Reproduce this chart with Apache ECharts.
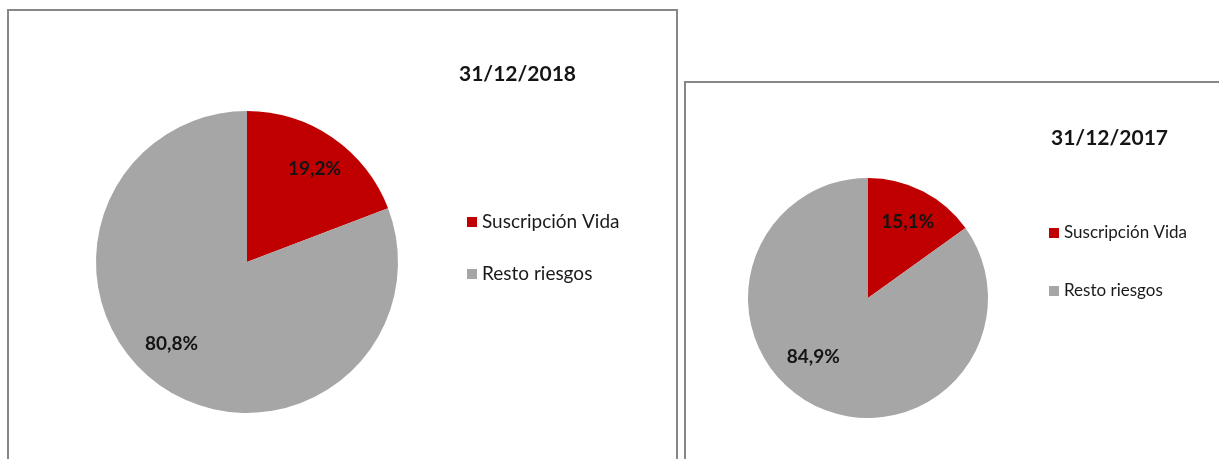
<!DOCTYPE html>
<html>
<head>
<meta charset="utf-8">
<script src="https://cdn.jsdelivr.net/npm/echarts@6/dist/echarts.min.js"></script>
<style>
  html, body { margin: 0; padding: 0; background: #fff; }
  #chart { width: 1219px; height: 459px; }
</style>
</head>
<body>
<div id="chart"></div>
<script>
// datos
const categories = ['Suscripción Vida', 'Resto riesgos']
const values2018 = [19.2, 80.8]
const values2017 = [15.1, 84.9]
const titles = ['31/12/2018', '31/12/2017']
const colors = ['#C00000', '#A6A6A6']

const fontFamily = 'Lato, "Open Sans", sans-serif'

let dom = document.getElementById('chart')
let myChart = echarts.init(dom)

function pieData (values, offsets) {
  return values.map((v, i) => {
    return {
      name: categories[i],
      value: v,
      itemStyle: { color: colors[i] },
      label: { offset: offsets[i] }
    }
  })
}

let pieLabel = (size) => {
  return {
    show: true,
    position: 'inside',
    color: '#141414',
    fontFamily: fontFamily,
    fontWeight: 'bold',
    fontSize: size,
    formatter: (p) => p.value.toFixed(1).replace('.', ',') + '%'
  }
}

let option = {
  animation: false,
  backgroundColor: '#fff',
  graphic: [
    {
      type: 'rect',
      shape: { x: 8, y: 10, width: 669, height: 470 },
      style: { fill: 'none', stroke: '#878787', lineWidth: 2 },
      z: 0
    },
    {
      type: 'rect',
      shape: { x: 685, y: 82, width: 560, height: 400 },
      style: { fill: 'none', stroke: '#878787', lineWidth: 2 },
      z: 0
    }
  ],
  title: [
    {
      text: titles[0],
      left: 454,
      top: 59,
      textStyle: { fontFamily: fontFamily, fontWeight: 'bold', fontSize: 21, color: '#141414' }
    },
    {
      text: titles[1],
      left: 1046,
      top: 123,
      textStyle: { fontFamily: fontFamily, fontWeight: 'bold', fontSize: 21, color: '#141414' }
    }
  ],
  legend: [
    {
      seriesIndex: 0,
      data: categories,
      orient: 'vertical',
      left: 462,
      top: 206,
      icon: 'rect',
      itemWidth: 10,
      itemHeight: 10,
      itemGap: 30,
      selectedMode: false,
      textStyle: { fontFamily: fontFamily, fontSize: 19, color: '#1a1a1a', lineHeight: 22 }
    },
    {
      seriesIndex: 1,
      data: categories,
      orient: 'vertical',
      left: 1044,
      top: 218,
      icon: 'rect',
      itemWidth: 10,
      itemHeight: 10,
      itemGap: 38,
      selectedMode: false,
      textStyle: { fontFamily: fontFamily, fontSize: 17, color: '#1a1a1a', lineHeight: 20 }
    }
  ],
  series: [
    {
      name: titles[0],
      type: 'pie',
      center: [247, 262],
      radius: [0, 151],
      startAngle: 90,
      clockwise: true,
      label: pieLabel(19),
      labelLine: { show: false },
      emphasis: { disabled: true },
      data: pieData(values2018, [[23, -28], [-31, 17]])
    },
    {
      name: titles[1],
      type: 'pie',
      center: [868, 298],
      radius: [0, 120],
      startAngle: 90,
      clockwise: true,
      label: pieLabel(19),
      labelLine: { show: false },
      emphasis: { disabled: true },
      data: pieData(values2017, [[11, -20], [-26, 3]])
    }
  ]
}

myChart.setOption(option, true)
</script>
</body>
</html>
